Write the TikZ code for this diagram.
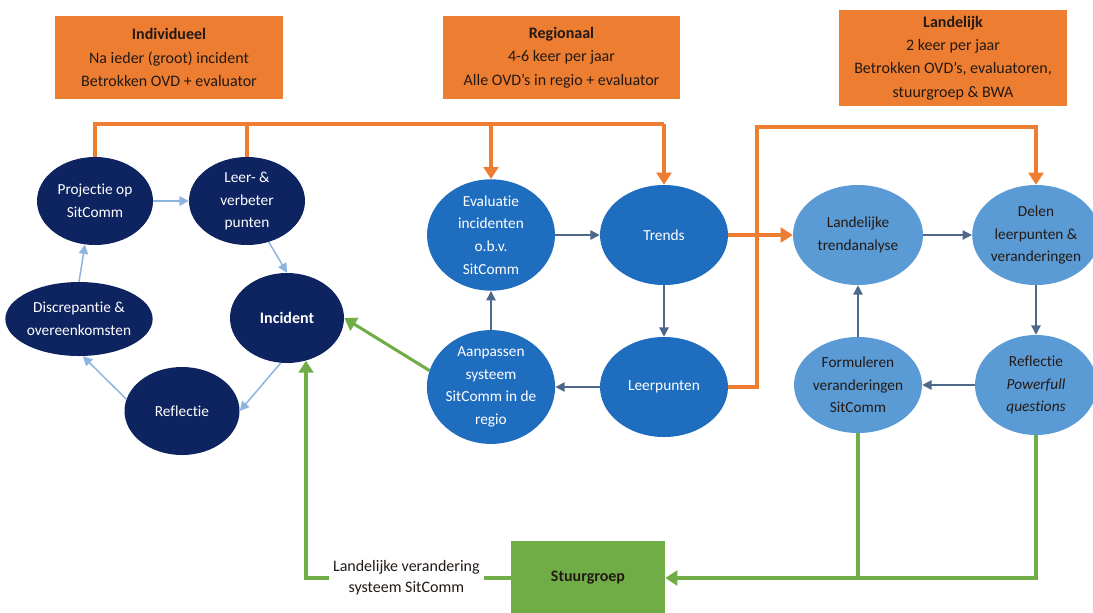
\documentclass[tikz,border=0pt]{standalone}
\usepackage{fontspec}
\setmainfont[RawFeature=-liga]{Carlito}
\usetikzlibrary{shapes.geometric,arrows.meta}
\definecolor{orangeC}{HTML}{ED7D31}
\definecolor{navyC}{HTML}{0E2460}
\definecolor{midC}{HTML}{1F6DBE}
\definecolor{lightC}{HTML}{5B9BD5}
\definecolor{greenC}{HTML}{70AD47}
\definecolor{arrL}{HTML}{8DB3DF}
\definecolor{arrM}{HTML}{4D6888}
\definecolor{txtD}{HTML}{231A15}
\begin{document}
\begin{tikzpicture}[x=0.75pt,y=-0.75pt,
  every node/.style={align=center,font=\fontsize{11.5}{17}\selectfont},
  infobox/.style={rectangle,fill=orangeC,text=txtD,font=\fontsize{12}{17.5}\selectfont,inner sep=0pt},
  navyell/.style={ellipse,fill=navyC,text=white,inner sep=0pt},
  midell/.style={ellipse,fill=midC,text=white,inner sep=0pt,minimum width=128*0.75pt,minimum height=100*0.75pt},
  lightell/.style={ellipse,fill=lightC,text=txtD,inner sep=0pt,minimum height=100*0.75pt},
  orangeline/.style={draw=orangeC,line width=2.3pt},
  greenline/.style={draw=greenC,line width=2.3pt},
  ltarrow/.style={draw=arrL,line width=1.1pt,-{Triangle[width=7pt,length=7pt]}},
  mdarrow/.style={draw=arrM,line width=1.1pt,-{Triangle[width=7pt,length=7pt]}},
  bigtip/.style={-{Triangle[width=11pt,length=9pt]}}
]
\useasboundingbox (0,0) rectangle (1093,612);
\fill[white] (0,0) rectangle (1093,612);

% orange info boxes
\node[infobox,minimum width=228*0.75pt,minimum height=83*0.75pt] (bind) at (169,57.5)
  {\textbf{Individueel}\\Na ieder (groot) incident\\Betrokken OVD + evaluator};
\node[infobox,minimum width=237*0.75pt,minimum height=83*0.75pt] (breg) at (561.5,57.5)
  {\textbf{Regionaal}\\4-6 keer per jaar\\Alle OVD’s in regio + evaluator};
\node[infobox,minimum width=228*0.75pt,minimum height=96*0.75pt] (blan) at (953,58)
  {\textbf{Landelijk}\\2 keer per jaar\\Betrokken OVD’s, evaluatoren,\\stuurgroep \& BWA};

% individual cycle
\node[navyell,minimum width=116*0.75pt,minimum height=88*0.75pt] (proj) at (95,201) {Projectie op\\SitComm};
\node[navyell,minimum width=116*0.75pt,minimum height=88*0.75pt] (leer) at (247,201) {Leer- \&\\verbeter\\punten};
\node[navyell,minimum width=144*0.75pt,minimum height=74*0.75pt] (disc) at (79,319) {Discrepantie \&\\overeenkomsten};
\node[navyell,minimum width=114*0.75pt,minimum height=90*0.75pt,font=\fontsize{12}{17}\selectfont\bfseries] (inc) at (287,318) {Incident};
\node[navyell,minimum width=115*0.75pt,minimum height=88*0.75pt] (refl) at (182,411) {Reflectie};

% regional cycle
\node[midell] (eval) at (491,235) {Evaluatie\\incidenten\\o.b.v.\\SitComm};
\node[midell] (trends) at (664,235) {Trends};
\node[midell] (aanp) at (491,387) {Aanpassen\\systeem\\SitComm in de\\regio};
\node[midell] (leerp) at (664,387) {Leerpunten};

% national cycle
\node[lightell,minimum width=130*0.75pt] (land) at (858,235) {Landelijke\\trendanalyse};
\node[lightell,minimum width=122*0.75pt] (delen) at (1036,235) {Delen\\leerpunten \&\\veranderingen};
\node[lightell,minimum width=128*0.75pt,minimum height=96*0.75pt] (form) at (858,385) {Formuleren\\veranderingen\\SitComm};
\node[lightell,minimum width=122*0.75pt] (refl2) at (1036,385) {Reflectie\\\textit{Powerfull}\\\textit{questions}};

% stuurgroep
\node[rectangle,fill=greenC,text=txtD,minimum width=154*0.75pt,minimum height=74*0.75pt,font=\fontsize{12}{17}\selectfont\bfseries] (stuur) at (588,578) {Stuurgroep};

% coordinates for orange bus lines
\coordinate (busL) at (95,124);
\coordinate (busR) at (664,124);
\coordinate (c1) at (757,127);

% orange connectors
\draw[orangeline] (proj.north) -- (busL) -- (busR);
\draw[orangeline] (leer.north) -- (leer.north |- busL);
\draw[orangeline,bigtip] (eval.north |- busL) -- (eval.north);
\draw[orangeline,bigtip] (busR) -- (trends.north);
\draw[orangeline,bigtip] (trends.east) -- (land.west);
\draw[orangeline,bigtip] (leerp.east) -| (c1) -| (delen.north);

% individual arrows
\draw[ltarrow] (proj.east) -- (leer.west);
\draw[ltarrow] (leer.-62) -- (inc.north);
\draw[ltarrow] (inc.-98) -- (refl.east);
\draw[ltarrow] (refl.168) -- (disc.-84);
\draw[ltarrow] (disc.north) -- (proj.-103);

% regional arrows
\draw[mdarrow] (eval.east) -- (trends.west);
\draw[mdarrow] (trends.south) -- (leerp.north);
\draw[mdarrow] (leerp.west) -- (aanp.east);
\draw[mdarrow] (aanp.north) -- (eval.south);

% national arrows
\draw[mdarrow] (land.east) -- (delen.west);
\draw[mdarrow] (delen.south) -- (refl2.north);
\draw[mdarrow] (refl2.west) -- (form.east);
\draw[mdarrow] (form.north) -- (land.south);

% green connectors
\draw[greenline,bigtip] (aanp.165) -- (inc.east);
\draw[greenline,bigtip] (stuur.west) -| (inc.-66)
  node[pos=0.255,fill=white,text=txtD,inner sep=3pt,font=\fontsize{12}{16}\selectfont] (lbl) {Landelijke verandering\\systeem SitComm};
\draw[greenline] (form.south) -- (form.south |- stuur.east);
\draw[greenline,bigtip] (refl2.south) |- (stuur.east);
\end{tikzpicture}
\end{document}
